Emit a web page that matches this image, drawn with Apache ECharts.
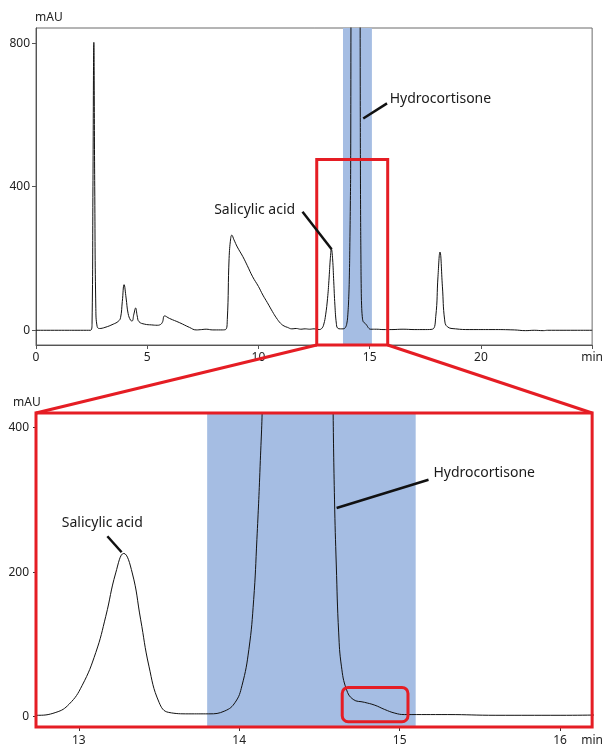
<!DOCTYPE html>
<html><head><meta charset="utf-8">
<script src="https://cdn.jsdelivr.net/npm/echarts@6/dist/echarts.min.js"></script>
<style>html,body{margin:0;padding:0;background:#fff}#c{width:606px;height:747px}</style>
</head><body><div id="c"></div>
<script>
// Retention time (min)
const times = [
  0, 1.0, 2.0, 2.45, 2.52, 2.56, 2.6, 2.64, 2.69, 2.75, 2.85, 3.1, 3.47, 3.7, 3.8, 3.88, 3.96, 4.05, 4.14, 4.25,
  4.32, 4.4, 4.48, 4.55, 4.63, 4.89, 5.19, 5.45, 5.56, 5.68, 5.78, 6.0, 6.46, 6.9, 7.2, 7.45, 7.65, 7.95, 8.3, 8.52,
  8.6, 8.68, 8.75, 8.8, 8.9, 9.05, 9.3, 9.5, 9.74, 10.0, 10.2, 10.4, 10.63, 10.8, 11.0, 11.15, 11.31, 11.5, 11.7, 11.9,
  12.1, 12.3, 12.5, 12.73, 12.857, 12.94, 13.02, 13.106, 13.168, 13.23, 13.28, 13.333, 13.385, 13.437, 13.5, 13.56, 13.686, 13.81, 13.91, 13.975,
  14.017, 14.06, 14.09, 14.11, 14.13, 14.145, 14.16, 14.19, 14.25, 14.35, 14.45, 14.53, 14.565, 14.575, 14.585, 14.594, 14.605, 14.62, 14.637, 14.668,
  14.71, 14.78, 14.845, 14.907, 14.97, 15.03, 15.3, 15.6, 16.0, 16.5, 17.0, 17.5, 17.82, 17.97, 18.07, 18.16, 18.27, 18.37, 18.49, 18.86,
  19.5, 20.5, 21.5, 22.0, 22.4, 22.8, 23.0, 25.0
];
// Absorbance (mAU)
const signal = [
  0, 0, 0, 0, 20, 400, 802, 400, 60, 10, 5, 8, 17, 25, 35, 80, 127, 90, 47, 28,
  26, 45, 62, 40, 24, 17, 15, 14, 15, 22, 40, 33, 21, 8, 1, 2, 3, 1, 1, 2,
  30, 200, 255, 265, 252, 232, 205, 180, 149, 122, 98, 77, 52, 35, 19, 12, 8, 4, 5, 3,
  4, 3, 4, 2, 6, 17.5, 43, 89, 139, 199, 226, 199, 135, 70, 20, 6, 4, 4, 8, 20,
  43, 93, 162, 245, 346, 450, 900, 1600, 2100, 2300, 2200, 1700, 1100, 700, 430, 300, 210, 116, 70, 38,
  24, 20, 16, 10, 5, 3, 3, 2, 2, 3, 2, 2, 3, 38, 149, 218, 121, 29, 10, 4,
  2, 2, 1, -1, 0, -1, 0, 0
];
const xTicksTop = [0, 5, 10, 15, 20, 25];
const xLabelsTop = [0, 5, 10, 15, 20, 25];
const yTicksTop = [0, 400, 800];
const xTicksBottom = [13, 14, 15, 16];
const xLabelsBottom = [13, 14, 15, 16, 16.2];
const yTicksBottom = [0, 200, 400];

const FONT = 'Noto Sans';
const RED = '#e51d24';
const BLUE = '#a5bde3';
const TOP = {xmin: 0, xmax: 25, ymin: -41, ymax: 842};
const BOT = {xmin: 12.733, xmax: 16.2, ymin: -14.2, ymax: 420.3};
const band = [13.8, 15.1];

const chart = echarts.init(document.getElementById('c'), null, {renderer: 'canvas'});
const data = times.map((t, i) => [t, signal[i]]);
const lbl = {color: '#222', fontSize: 12, fontFamily: FONT};

chart.setOption({
  animation: false,
  grid: [
    {left: 36, right: 12, top: 28, height: 317, show: true, borderColor: '#6b6b6b', borderWidth: 1},
    {left: 36, right: 12, top: 413, height: 315}
  ],
  xAxis: [
    {gridIndex: 0, type: 'value', min: TOP.xmin, max: TOP.xmax,
     axisLine: {show: true, onZero: false, lineStyle: {color: '#555', width: 1}},
     axisTick: {show: true, customValues: xTicksTop, length: 4, lineStyle: {color: '#555'}},
     axisLabel: Object.assign({customValues: xLabelsTop, margin: 7, formatter: v => v === 25 ? 'min' : String(v)}, lbl),
     splitLine: {show: false}},
    {gridIndex: 1, type: 'value', min: BOT.xmin, max: BOT.xmax,
     axisLine: {show: false, onZero: false},
     axisTick: {show: true, customValues: xTicksBottom, length: 4, lineStyle: {color: '#333'}},
     axisLabel: Object.assign({customValues: xLabelsBottom, margin: 8, formatter: v => v > 16.1 ? 'min' : String(v)}, lbl),
     splitLine: {show: false}}
  ],
  yAxis: [
    {gridIndex: 0, type: 'value', min: TOP.ymin, max: TOP.ymax,
     axisLine: {show: true, onZero: false, lineStyle: {color: '#555', width: 1}},
     axisTick: {show: true, customValues: yTicksTop, length: 4, lineStyle: {color: '#555'}},
     axisLabel: Object.assign({customValues: yTicksTop, margin: 6}, lbl),
     splitLine: {show: false}},
    {gridIndex: 1, type: 'value', min: BOT.ymin, max: BOT.ymax,
     axisLine: {show: false, onZero: false},
     axisTick: {show: true, customValues: yTicksBottom, length: 3, lineStyle: {color: '#333'}},
     axisLabel: Object.assign({customValues: yTicksBottom, margin: 7}, lbl),
     splitLine: {show: false}}
  ],
  series: [0, 1].map(i => ({
    type: 'line', xAxisIndex: i, yAxisIndex: i, data: data,
    showSymbol: false, smooth: 0.45, clip: true,
    lineStyle: {color: '#111', width: 1},
    markArea: {silent: true, itemStyle: {color: BLUE, opacity: 1},
      data: [[{xAxis: band[0]}, {xAxis: band[1]}]]}
  }))
});

const p0 = v => chart.convertToPixel({xAxisIndex: 0, yAxisIndex: 0}, v);
const p1 = v => chart.convertToPixel({xAxisIndex: 1, yAxisIndex: 1}, v);
const rectFrom = (a, b) => ({x: Math.min(a[0], b[0]), y: Math.min(a[1], b[1]), width: Math.abs(b[0] - a[0]), height: Math.abs(b[1] - a[1])});

const zoomRect = {x0: 12.62, x1: 15.81, ytop: 476};
const tl = p0([zoomRect.x0, zoomRect.ytop]), br = p0([zoomRect.x1, TOP.ymin]);
const bl0 = p0([zoomRect.x0, TOP.ymin]);
const fTL = p1([BOT.xmin, BOT.ymax]), fBR = p1([BOT.xmax, BOT.ymin]), fTR = p1([BOT.xmax, BOT.ymax]);
const sA = p1([14.642, 40.6]), sB = p1([15.052, -6.9]);

const leader = (a, b) => ({type: 'line', z: 50, shape: {x1: a[0], y1: a[1], x2: b[0], y2: b[1]}, style: {stroke: '#111', lineWidth: 2.5}});
const txt = (p, s, align) => ({type: 'text', z: 50, x: p[0], y: p[1], style: {text: s, fill: '#1a1a1a', font: '14px "' + FONT + '"', align: align, verticalAlign: 'middle'}});

chart.setOption({
  graphic: [
    {type: 'rect', z: 40, shape: rectFrom(tl, br), style: {fill: 'none', stroke: RED, lineWidth: 3}},
    {type: 'line', z: 40, shape: {x1: bl0[0], y1: bl0[1], x2: fTL[0], y2: fTL[1]}, style: {stroke: RED, lineWidth: 3}},
    {type: 'line', z: 40, shape: {x1: br[0], y1: br[1], x2: fTR[0], y2: fTR[1]}, style: {stroke: RED, lineWidth: 3}},
    {type: 'rect', z: 40, shape: rectFrom(fTL, fBR), style: {fill: 'none', stroke: RED, lineWidth: 3}},
    {type: 'rect', z: 40, shape: Object.assign(rectFrom(sA, sB), {r: 6}), style: {fill: 'none', stroke: RED, lineWidth: 3}},
    leader(p0([11.98, 330.3]), p0([13.29, 225.6])),
    leader(p0([14.71, 590]), p0([15.78, 632])),
    leader(p1([13.178, 249.7]), p1([13.267, 227.6])),
    leader(p1([14.607, 288.8]), p1([15.18, 327.9])),
    txt(p0([11.65, 335]), 'Salicylic acid', 'right'),
    txt(p0([15.9, 643]), 'Hydrocortisone', 'left'),
    txt(p1([12.894, 268]), 'Salicylic acid', 'left'),
    txt(p1([15.211, 337.5]), 'Hydrocortisone', 'left'),
    {type: 'text', z: 50, x: 35, y: 18, style: {text: 'mAU', fill: '#222', font: '12px "' + FONT + '"', align: 'left', verticalAlign: 'middle'}},
    {type: 'text', z: 50, x: 13, y: 403, style: {text: 'mAU', fill: '#222', font: '12px "' + FONT + '"', align: 'left', verticalAlign: 'middle'}}
  ]
});
</script>
</body></html>
